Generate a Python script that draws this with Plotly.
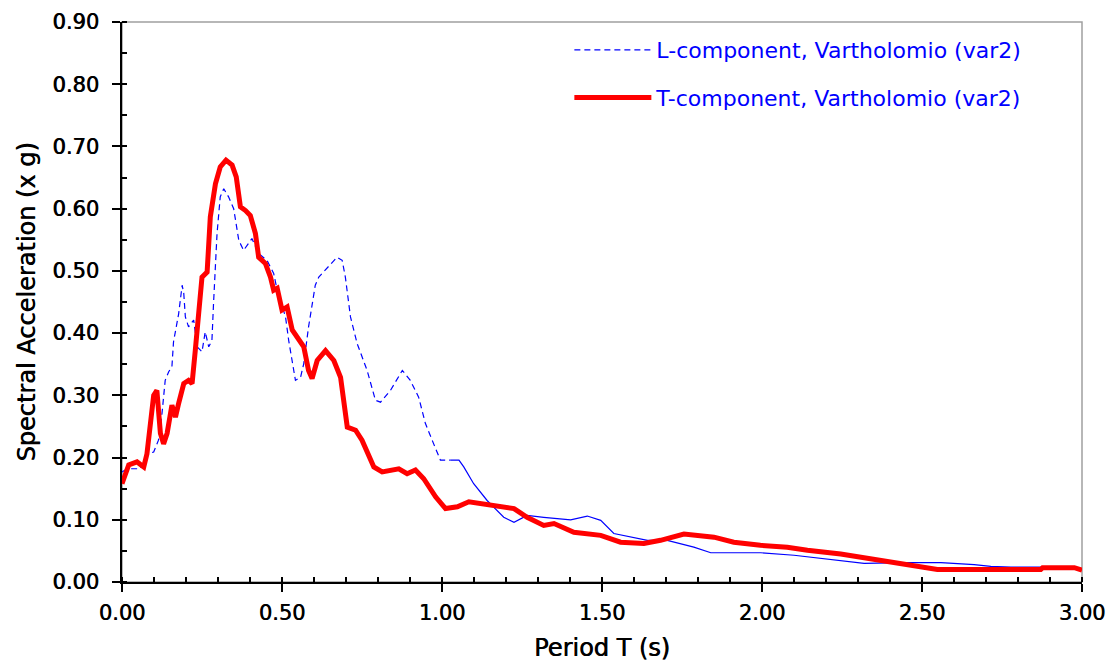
import plotly.graph_objects as go

# T-component (red, thick)
t_period = [0.000, 0.021, 0.047, 0.068, 0.078, 0.088, 0.099, 0.109, 0.120, 0.130,
            0.141, 0.156, 0.167, 0.177, 0.193, 0.208, 0.219, 0.229, 0.240, 0.250,
            0.266, 0.276, 0.292, 0.307, 0.325, 0.344, 0.357, 0.370, 0.386, 0.401,
            0.417, 0.427, 0.448, 0.464, 0.474, 0.485, 0.500, 0.516, 0.532, 0.552,
            0.568, 0.583, 0.594, 0.610, 0.636, 0.662, 0.683, 0.704, 0.730, 0.750,
            0.787, 0.813, 0.865, 0.891, 0.917, 0.943, 0.980, 1.011, 1.048, 1.084,
            1.131, 1.178, 1.225, 1.266, 1.318, 1.350, 1.412, 1.496, 1.558, 1.631,
            1.683, 1.756, 1.850, 1.912, 1.995, 2.079, 2.142, 2.246, 2.308, 2.402,
            2.455, 2.507, 2.548, 2.871, 2.877, 2.976, 3.000]
t_sa = [0.158, 0.188, 0.193, 0.185, 0.206, 0.255, 0.300, 0.308, 0.239, 0.222,
        0.239, 0.284, 0.265, 0.287, 0.319, 0.324, 0.319, 0.372, 0.447, 0.490,
        0.498, 0.587, 0.640, 0.667, 0.678, 0.670, 0.651, 0.603, 0.597, 0.589,
        0.560, 0.522, 0.512, 0.490, 0.469, 0.472, 0.437, 0.442, 0.405, 0.391,
        0.378, 0.340, 0.327, 0.356, 0.372, 0.356, 0.329, 0.249, 0.244, 0.228,
        0.185, 0.177, 0.182, 0.174, 0.180, 0.166, 0.137, 0.118, 0.121, 0.129,
        0.126, 0.123, 0.118, 0.104, 0.091, 0.094, 0.080, 0.075, 0.064, 0.062,
        0.067, 0.077, 0.072, 0.064, 0.059, 0.056, 0.051, 0.045, 0.040, 0.032,
        0.027, 0.024, 0.020, 0.020, 0.023, 0.023, 0.019]

# L-component (blue, thin) - first part drawn dashed
l_period_a = [0.000, 0.016, 0.057, 0.083, 0.099, 0.114, 0.125, 0.135, 0.146, 0.156,
              0.161, 0.177, 0.188, 0.193, 0.198, 0.208, 0.224, 0.235, 0.250, 0.260,
              0.271, 0.281, 0.286, 0.297, 0.307, 0.318, 0.333, 0.349, 0.365, 0.380,
              0.406, 0.427, 0.453, 0.474, 0.485, 0.511, 0.521, 0.532, 0.542, 0.558,
              0.568, 0.583, 0.594, 0.604, 0.615, 0.672, 0.688, 0.698, 0.714, 0.735,
              0.766, 0.792, 0.808, 0.839, 0.876, 0.901, 0.927, 0.948, 0.974, 0.995,
              1.027]
l_sa_a = [0.177, 0.182, 0.182, 0.206, 0.209, 0.228, 0.271, 0.324, 0.338, 0.346,
          0.386, 0.431, 0.477, 0.464, 0.426, 0.410, 0.421, 0.378, 0.370, 0.402,
          0.378, 0.388, 0.447, 0.560, 0.619, 0.632, 0.619, 0.600, 0.549, 0.533,
          0.552, 0.528, 0.517, 0.496, 0.469, 0.426, 0.388, 0.351, 0.324, 0.329,
          0.351, 0.410, 0.447, 0.477, 0.490, 0.522, 0.517, 0.490, 0.426, 0.383,
          0.340, 0.292, 0.289, 0.308, 0.340, 0.324, 0.297, 0.255, 0.222, 0.196,
          0.196]
# remaining part (appears solid)
l_period_b = [1.027, 1.053, 1.068, 1.099, 1.141, 1.193, 1.225, 1.266, 1.318, 1.402,
              1.454, 1.496, 1.537, 1.600, 1.642, 1.704, 1.787, 1.840, 1.996, 2.100,
              2.152, 2.246, 2.319, 2.444, 2.559, 2.663, 2.715, 2.778, 2.866, 3.000]
l_sa_b = [0.196, 0.196, 0.185, 0.158, 0.131, 0.104, 0.096, 0.107, 0.104, 0.100,
          0.106, 0.099, 0.078, 0.072, 0.067, 0.067, 0.056, 0.047, 0.047, 0.043,
          0.040, 0.034, 0.030, 0.031, 0.031, 0.028, 0.025, 0.024, 0.024, 0.021]

x_ticks = [0.0, 0.5, 1.0, 1.5, 2.0, 2.5, 3.0]
y_ticks = [0.0, 0.1, 0.2, 0.3, 0.4, 0.5, 0.6, 0.7, 0.8, 0.9]

FONT = "DejaVu Sans"
BLUE = "#0000FF"
RED = "#FF0000"
SHADOW = "0.6px 0px 0px black"

fig = go.Figure()
fig.add_trace(go.Scatter(
    x=l_period_a, y=l_sa_a, mode="lines", name="L-component, Vartholomio (var2)",
    line=dict(color=BLUE, width=1.2, dash="6px,4px"), legendgroup="L"))
fig.add_trace(go.Scatter(
    x=l_period_b, y=l_sa_b, mode="lines", showlegend=False,
    line=dict(color=BLUE, width=1.2), legendgroup="L"))
fig.add_trace(go.Scatter(
    x=t_period, y=t_sa, mode="lines", name="T-component, Vartholomio (var2)",
    line=dict(color=RED, width=5), legendgroup="T"))

axis_common = dict(
    showline=True, linecolor="black", linewidth=1.5,
    ticks="outside", ticklen=8, tickwidth=1.5, tickcolor="black",
    showgrid=False, zeroline=False, tickformat=".2f", automargin=False,
    tickfont=dict(family=FONT, size=21, color="black", shadow=SHADOW),
)

fig.update_xaxes(
    range=[0, 3.0], tickvals=x_ticks, ticklabelstandoff=3,
    minor=dict(dtick=0.1, ticks="inside", ticklen=5, tickwidth=1.5, tickcolor="black"),
    title=dict(text="Period T (s)", font=dict(family=FONT, size=24, color="black", shadow=SHADOW), standoff=18),
    **axis_common)
fig.update_yaxes(
    range=[0, 0.9], tickvals=y_ticks, ticklabelstandoff=9,
    minor=dict(dtick=0.05, ticks="inside", ticklen=5, tickwidth=1.5, tickcolor="black"),
    title=dict(text="Spectral Acceleration (x g)", font=dict(family=FONT, size=24, color="black", shadow=SHADOW), standoff=10),
    **axis_common)

fig.add_shape(type="rect", xref="paper", yref="paper", x0=0, x1=1, y0=0, y1=1,
              line=dict(color="#A0A0A0", width=1.5), layer="below")

fig.update_layout(
    width=1112, height=662,
    margin=dict(l=122, r=30, t=22, b=80),
    paper_bgcolor="white", plot_bgcolor="white",
    font=dict(family=FONT),
    legend=dict(x=0.466, y=0.9875, xanchor="left", yanchor="top",
                font=dict(family=FONT, size=22, color=BLUE),
                bgcolor="rgba(0,0,0,0)", itemwidth=77,
                traceorder="grouped", tracegroupgap=16),
)

fig.write_html("out.html",
               config={"displayModeBar": False},
               post_script="document.body.style.margin='0px';document.body.style.overflow='hidden';")
